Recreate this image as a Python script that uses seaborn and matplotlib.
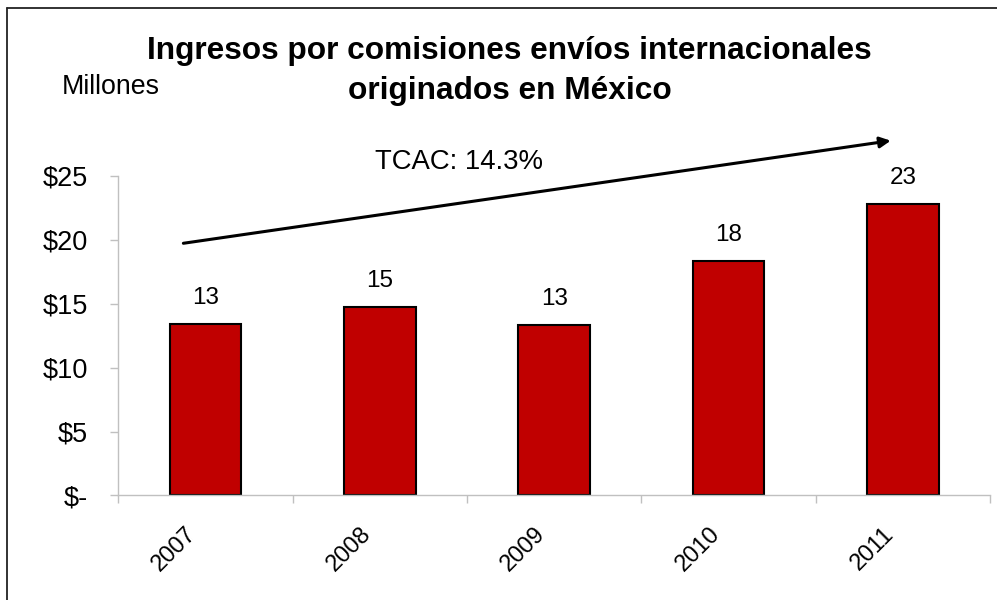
import matplotlib
matplotlib.use("Agg")
import matplotlib.pyplot as plt
import matplotlib.transforms as mtransforms
from matplotlib.lines import Line2D
from matplotlib.ticker import FixedLocator
import pandas as pd
import seaborn as sns

# data (millones de pesos)
years = ["2007", "2008", "2009", "2010", "2011"]
ingresos = [13.4, 14.7, 13.3, 18.3, 22.8]
y_ticks = [0, 5, 10, 15, 20, 25]
y_tick_labels = [r"\$-", r"\$5", r"\$10", r"\$15", r"\$20", r"\$25"]
title_lines = ["Ingresos por comisiones envíos internacionales",
               "originados en México"]
unit_text = "Millones"
cagr_text = "TCAC: 14.3%"

sns.set_theme(style="white")
plt.rcParams["font.family"] = ["Liberation Sans", "DejaVu Sans"]
plt.rcParams["text.color"] = "black"

df = pd.DataFrame({"year": years, "ingresos": ingresos})

fig = plt.figure(figsize=(9.97, 6.0), dpi=100)
ax = fig.add_axes([0.1187, 0.1742, 0.8743, 0.533])

sns.barplot(data=df, x="year", y="ingresos", color="#C00000", saturation=1,
            width=0.41, edgecolor="black", linewidth=1.5, ax=ax)
ax.bar_label(ax.containers[0], fmt="%.0f", padding=11, fontsize=17.5, color="black")

ax.set_xlim(-0.5, len(years) - 0.5)
ax.set_ylim(0, 25)
ax.set_yticks(y_ticks)
ax.set_yticklabels(y_tick_labels)
ax.set_xlabel("")
ax.set_ylabel("")

for side in ["top", "right"]:
    ax.spines[side].set_visible(False)
for side in ["left", "bottom"]:
    ax.spines[side].set_color("#C0C0C0")
    ax.spines[side].set_linewidth(1.0)

ax.tick_params(axis="y", left=True, length=5.8, width=1, color="#C0C0C0",
               pad=16.3, labelsize=19.5, direction="out", labelcolor="black")
ax.tick_params(axis="x", which="major", bottom=True, length=0, pad=28.5,
               labelsize=17, labelcolor="black")
ax.xaxis.set_minor_locator(FixedLocator([i - 0.5 for i in range(len(years) + 1)]))
ax.tick_params(axis="x", which="minor", bottom=True, length=5.8, width=1,
               color="#C0C0C0", direction="out")
# nudge rotated year labels a little to the left, like the original
shift = mtransforms.ScaledTranslation(-0.08, 0, fig.dpi_scale_trans)
for lab in ax.get_xticklabels():
    lab.set_rotation(45)
    lab.set_ha("right")
    lab.set_va("baseline")
    lab.set_rotation_mode("anchor")
    lab.set_transform(lab.get_transform() + shift)

# growth arrow + CAGR label
ax.annotate("", xy=(0.8861, 1.1094), xytext=(0.0746, 0.7886),
            xycoords="axes fraction", textcoords="axes fraction",
            arrowprops=dict(arrowstyle="-|>", lw=2.2, color="black",
                            mutation_scale=16, shrinkA=0, shrinkB=0),
            annotation_clip=False)
ax.text(0.391, 1.020, cagr_text, transform=ax.transAxes, ha="center",
        va="baseline", fontsize=19.8)

fig.text(0.0619, 0.8428, unit_text, ha="left", va="baseline", fontsize=19.3)
# title drawn as two lines so its box does not cover "Millones"
for line, ypos in zip(title_lines, [0.9012, 0.8345]):
    fig.text(0.5112, ypos, line, ha="center", va="baseline",
             fontsize=22.8, fontweight="bold")

# frame lines (top and left edge of the slide crop)
fig.add_artist(Line2D([0.007, 1], [0.9875, 0.9875], transform=fig.transFigure,
                      color="#222222", lw=1.3))
fig.add_artist(Line2D([0.007, 0.007], [0, 0.9875], transform=fig.transFigure,
                      color="#222222", lw=1.3))

fig.savefig("out.png", dpi=100)
